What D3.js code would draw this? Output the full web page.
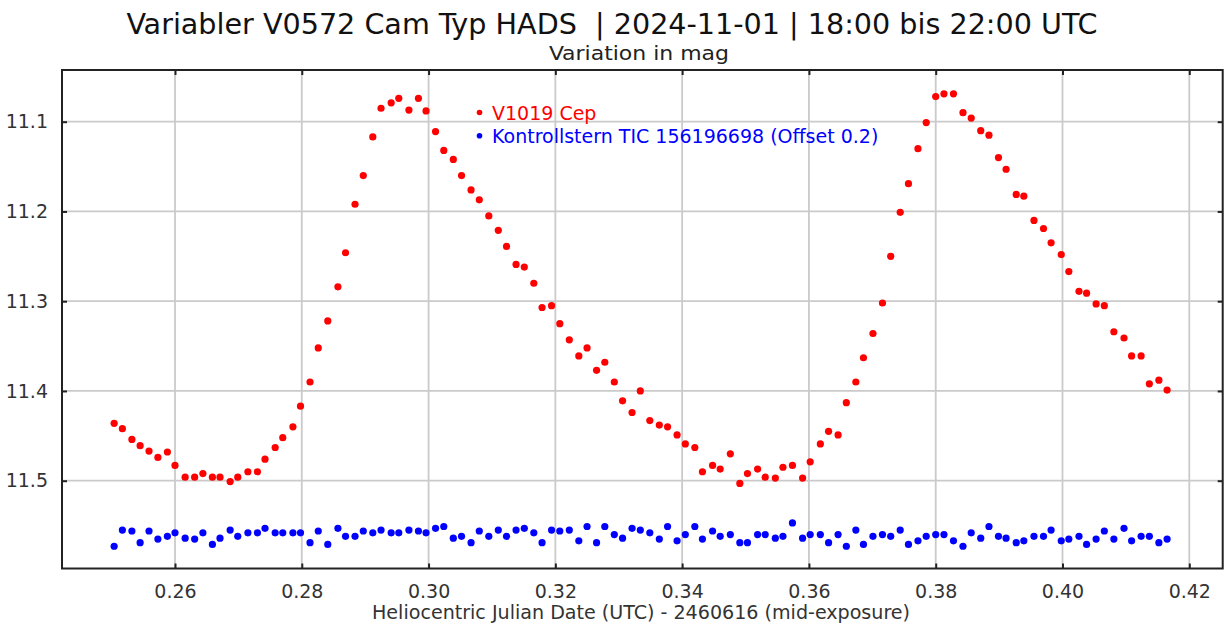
<!DOCTYPE html>
<html>
<head>
<meta charset="utf-8">
<script src="https://cdn.jsdelivr.net/npm/d3@7"></script>
<style>
  html, body { margin: 0; padding: 0; background: #fff; }
  svg { display: block; }
</style>
</head>
<body>
<svg id="chart" width="1224" height="624"></svg>
<script>
// ---------------- DATA ----------------
const titleText = "Variabler V0572 Cam Typ HADS  | 2024-11-01 | 18:00 bis 22:00 UTC";
const subtitleText = "Variation in mag";
const xLabelText = "Heliocentric Julian Date (UTC) - 2460616 (mid-exposure)";
const seriesNames = ["V1019 Cep", "Kontrollstern TIC 156196698 (Offset 0.2)"];

const xTicks = [0.26, 0.28, 0.30, 0.32, 0.34, 0.36, 0.38, 0.40, 0.42];
const yTicks = [11.1, 11.2, 11.3, 11.4, 11.5];

// HJD - 2460616 (mid-exposure)
const hjd = [
  0.2504, 0.2517, 0.2532, 0.2545, 0.2559, 0.2573, 0.2588, 0.2600, 0.2616, 0.2631,
  0.2644, 0.2659, 0.2671, 0.2687, 0.2699, 0.2715, 0.2730, 0.2742, 0.2758, 0.2770,
  0.2786, 0.2798, 0.2813, 0.2826, 0.2841, 0.2857, 0.2869, 0.2884, 0.2897, 0.2912,
  0.2925, 0.2941, 0.2953, 0.2969, 0.2984, 0.2996, 0.3011, 0.3024, 0.3039, 0.3052,
  0.3067, 0.3080, 0.3095, 0.3110, 0.3123, 0.3138, 0.3151, 0.3166, 0.3179, 0.3194,
  0.3207, 0.3222, 0.3237, 0.3250, 0.3265, 0.3278, 0.3293, 0.3306, 0.3321, 0.3334,
  0.3349, 0.3364, 0.3377, 0.3392, 0.3405, 0.3420, 0.3432, 0.3448, 0.3460, 0.3476,
  0.3491, 0.3503, 0.3519, 0.3531, 0.3547, 0.3559, 0.3574, 0.3590, 0.3602, 0.3618,
  0.3631, 0.3646, 0.3659, 0.3674, 0.3686, 0.3701, 0.3716, 0.3729, 0.3744, 0.3757,
  0.3772, 0.3785, 0.3800, 0.3813, 0.3828, 0.3843, 0.3856, 0.3871, 0.3884, 0.3899,
  0.3911, 0.3927, 0.3939, 0.3955, 0.3970, 0.3982, 0.3998, 0.4010, 0.4026, 0.4038,
  0.4053, 0.4066, 0.4081, 0.4097, 0.4109, 0.4124, 0.4137, 0.4152, 0.4165
];

// V1019 Cep magnitudes
const v1019 = [
  11.436, 11.442, 11.454, 11.461, 11.467, 11.474, 11.468, 11.483, 11.496, 11.496,
  11.492, 11.496, 11.496, 11.501, 11.496, 11.490, 11.490, 11.476, 11.463, 11.452,
  11.440, 11.417, 11.390, 11.352, 11.322, 11.284, 11.246, 11.192, 11.160, 11.117,
  11.085, 11.079, 11.074, 11.087, 11.074, 11.088, 11.111, 11.132, 11.142, 11.160,
  11.176, 11.187, 11.205, 11.221, 11.239, 11.259, 11.262, 11.280, 11.307, 11.305,
  11.325, 11.343, 11.361, 11.352, 11.377, 11.368, 11.390, 11.411, 11.424, 11.400,
  11.433, 11.438, 11.440, 11.449, 11.459, 11.463, 11.490, 11.483, 11.487, 11.470,
  11.503, 11.492, 11.487, 11.496, 11.497, 11.485, 11.483, 11.497, 11.479, 11.459,
  11.445, 11.449, 11.413, 11.390, 11.363, 11.336, 11.302, 11.250, 11.201, 11.169,
  11.130, 11.101, 11.072, 11.069, 11.069, 11.090, 11.096, 11.110, 11.115, 11.140,
  11.153, 11.181, 11.183, 11.210, 11.219, 11.235, 11.248, 11.267, 11.289, 11.291,
  11.303, 11.305, 11.334, 11.341, 11.361, 11.361, 11.392, 11.388, 11.399
];

// Kontrollstern TIC 156196698, plotted with offset 0.2 already applied
const control = [
  11.573, 11.555, 11.556, 11.569, 11.556, 11.565, 11.562, 11.558, 11.564, 11.565,
  11.558, 11.571, 11.564, 11.555, 11.562, 11.558, 11.558, 11.553, 11.558, 11.558,
  11.558, 11.558, 11.569, 11.556, 11.571, 11.553, 11.562, 11.562, 11.556, 11.558,
  11.555, 11.558, 11.558, 11.555, 11.556, 11.558, 11.553, 11.551, 11.564, 11.562,
  11.569, 11.556, 11.562, 11.555, 11.562, 11.555, 11.553, 11.558, 11.569, 11.555,
  11.556, 11.555, 11.567, 11.551, 11.569, 11.551, 11.560, 11.564, 11.553, 11.555,
  11.558, 11.565, 11.551, 11.567, 11.560, 11.551, 11.565, 11.556, 11.562, 11.560,
  11.569, 11.569, 11.560, 11.560, 11.564, 11.562, 11.547, 11.564, 11.560, 11.560,
  11.569, 11.560, 11.573, 11.555, 11.571, 11.562, 11.560, 11.562, 11.555, 11.571,
  11.567, 11.562, 11.560, 11.560, 11.567, 11.573, 11.558, 11.564, 11.551, 11.562,
  11.564, 11.569, 11.567, 11.562, 11.562, 11.555, 11.567, 11.565, 11.562, 11.571,
  11.565, 11.556, 11.565, 11.553, 11.567, 11.562, 11.562, 11.569, 11.565
];

const colors = ["#ff0000", "#0000ff"];

// ---------------- LAYOUT ----------------
const svg = d3.select("#chart");
const plot = { left: 62, top: 70, right: 1222.7, bottom: 568.5 };

const x = d3.scaleLinear().domain([0.242175, 0.42527]).range([plot.left, plot.right]);
const y = d3.scaleLinear().domain([11.0424, 11.5978]).range([plot.top, plot.bottom]);

const font = "'DejaVu Sans', sans-serif";
const condFont = "'DejaVu Sans Condensed', 'Liberation Sans Narrow', 'DejaVu Sans', sans-serif";

// Titles
svg.append("text").attr("x", 612).attr("y", 34).attr("text-anchor", "middle")
  .attr("font-family", condFont).attr("font-size", 28).attr("fill", "#111")
  .attr("textLength", 971).attr("lengthAdjust", "spacingAndGlyphs")
  .style("white-space", "pre")
  .text(titleText);
svg.append("text").attr("x", 639).attr("y", 60).attr("text-anchor", "middle")
  .attr("font-family", condFont).attr("font-size", 20).attr("fill", "#222")
  .attr("textLength", 180).attr("lengthAdjust", "spacingAndGlyphs")
  .text(subtitleText);

// Grid
const grid = svg.append("g");
grid.selectAll(".gx").data(xTicks).join("line")
  .attr("x1", d => x(d)).attr("x2", d => x(d))
  .attr("y1", plot.top).attr("y2", plot.bottom)
  .attr("stroke", "#cacaca").attr("stroke-width", 1.8);
grid.selectAll(".gy").data(yTicks).join("line")
  .attr("x1", plot.left).attr("x2", plot.right)
  .attr("y1", d => y(d)).attr("y2", d => y(d))
  .attr("stroke", "#cacaca").attr("stroke-width", 1.8);

// Axes (ticks pointing inward)
const fmtX = d3.format(".2f");
const fmtY = d3.format(".1f");
const axB = svg.append("g").attr("transform", `translate(0,${plot.bottom})`)
  .call(d3.axisBottom(x).tickValues(xTicks).tickSizeInner(-5).tickSizeOuter(0).tickPadding(16).tickFormat(fmtX));
const axT = svg.append("g").attr("transform", `translate(0,${plot.top})`)
  .call(d3.axisTop(x).tickValues(xTicks).tickSizeInner(-5).tickSizeOuter(0).tickFormat(""));
const axL = svg.append("g").attr("transform", `translate(${plot.left},0)`)
  .call(d3.axisLeft(y).tickValues(yTicks).tickSizeInner(-5).tickSizeOuter(0).tickPadding(14).tickFormat(fmtY));
const axR = svg.append("g").attr("transform", `translate(${plot.right},0)`)
  .call(d3.axisRight(y).tickValues(yTicks).tickSizeInner(-5).tickSizeOuter(0).tickFormat(""));
[axB, axT, axL, axR].forEach(a => {
  a.select(".domain").remove();
  a.selectAll(".tick line").attr("stroke", "#222").attr("stroke-width", 2);
  a.selectAll("text").attr("font-family", font).attr("font-size", 19).attr("fill", "#333");
});

// Frame
svg.append("rect").attr("x", plot.left).attr("y", plot.top)
  .attr("width", plot.right - plot.left).attr("height", plot.bottom - plot.top)
  .attr("fill", "none").attr("stroke", "#222").attr("stroke-width", 2);

// X-axis label
svg.append("text").attr("x", 641).attr("y", 619).attr("text-anchor", "middle")
  .attr("font-family", condFont).attr("font-size", 19).attr("fill", "#333")
  .attr("textLength", 538).attr("lengthAdjust", "spacingAndGlyphs")
  .text(xLabelText);

// Data points
const series = [v1019, control];
series.forEach((vals, si) => {
  svg.append("g").selectAll("circle")
    .data(hjd.map((t, i) => [t, vals[i]]))
    .join("circle")
    .attr("cx", d => x(d[0])).attr("cy", d => y(d[1]))
    .attr("r", 3.6).attr("fill", colors[si]);
});

// Legend
const legend = svg.append("g");
seriesNames.forEach((name, i) => {
  legend.append("circle").attr("cx", 479.5).attr("cy", 112.5 + i * 23.3)
    .attr("r", 2.8).attr("fill", colors[i]);
  legend.append("text").attr("x", 492).attr("y", 119.5 + i * 23.3)
    .attr("font-family", font).attr("font-size", 19).attr("fill", colors[i])
    .text(name);
});
</script>
</body>
</html>
